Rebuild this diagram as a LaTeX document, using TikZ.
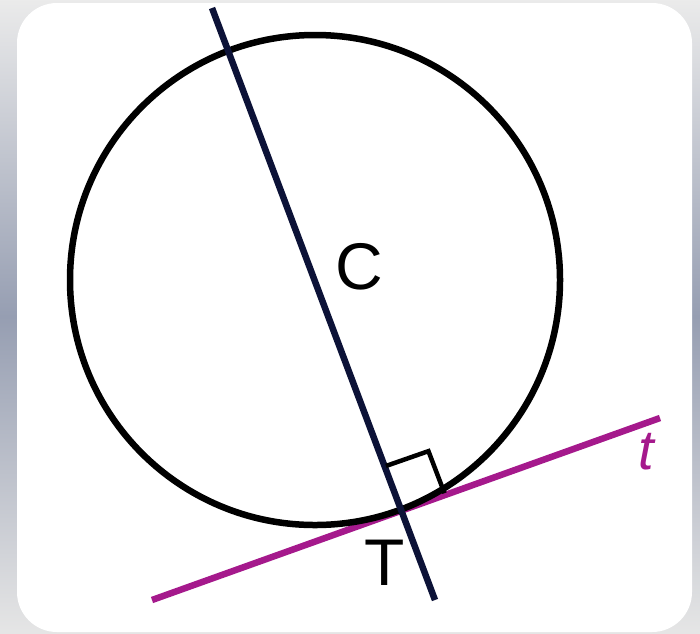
\documentclass[tikz,border=0pt]{standalone}
\usepackage{fontspec}
\setmainfont{Liberation Sans}
\usetikzlibrary{calc}
\definecolor{lineblue}{RGB}{12,18,55}
\definecolor{tmag}{RGB}{165,25,140}
\begin{document}
\begin{tikzpicture}[x=1pt,y=-1pt,
  thickline/.style={line width=6.5pt},
  lab/.style={inner sep=0pt,anchor=center}]
\useasboundingbox (0,0) rectangle (700,633);
\shade[top color=black!8, bottom color=black!10, middle color={rgb,255:red,150;green,158;blue,178}] (0,0) rectangle (700,633);
\fill[white, rounded corners=40pt] (17,3) rectangle (692,632);
\coordinate (C) at (315,280);
\coordinate (T) at (402,508);
\coordinate (L1) at (212,8);
\coordinate (L2) at (435,600);
\coordinate (t1) at (152,600);
\coordinate (t2) at (660,418);
\draw[thickline, tmag] (t1) -- (t2);
\draw[thickline, black] (C) circle (245pt);
\draw[thickline, lineblue] (L1) -- (L2);
\coordinate (S1) at ($(T)!45pt!(C)$);
\coordinate (S2) at ($(T)!45pt!(t2)$);
\draw[line width=4.5pt, black] (S1) -- ($(S1)+(S2)-(T)$) -- (S2);
\node[lab, font=\fontsize{66}{66}\selectfont] (Clab) at (359,267) {C};
\node[lab, font=\fontsize{66}{66}\selectfont] (Tlab) at (385,563) {T};
\node[lab, font=\fontsize{56}{56}\selectfont\itshape, text=tmag] (tlab) at (646,452) {t};
\end{tikzpicture}
\end{document}
